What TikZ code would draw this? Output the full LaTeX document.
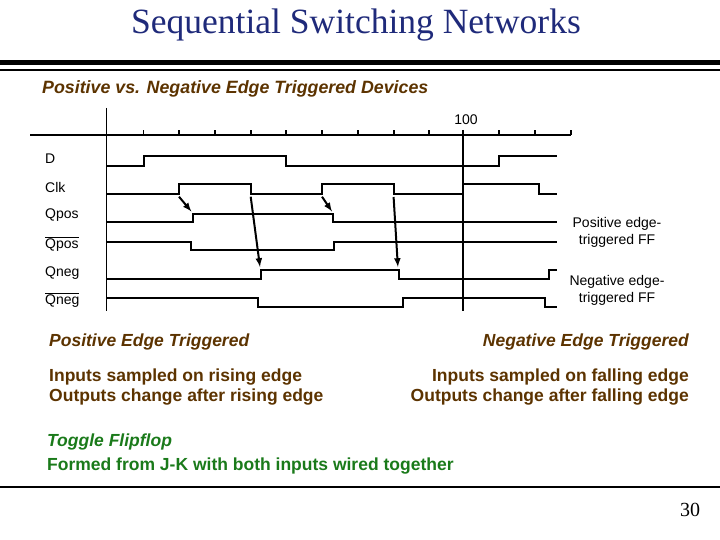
\documentclass[tikz,border=0pt]{standalone}
\usepackage{fontspec}
\setmainfont{Liberation Serif}
\setsansfont{Liberation Sans}
\begin{document}
\begin{tikzpicture}[x=1pt,y=-1pt,
 sig/.style={line width=2pt},
 lbl/.style={font=\sffamily\fontsize{14}{16}\selectfont, anchor=west, inner sep=0},
 br/.style={text=brn, font=\sffamily\bfseries\fontsize{17.5}{19.5}\selectfont, inner sep=0},
 gr/.style={text=grn, font=\sffamily\bfseries\fontsize{17.5}{19}\selectfont, inner sep=0, anchor=west},
 arr/.style={line width=2pt,-latex}]
\definecolor{brn}{HTML}{5C3300}
\definecolor{grn}{HTML}{1A7A1A}
\definecolor{nav}{HTML}{1F2A7A}
\useasboundingbox (0,0) rectangle (720,540);
\node[text=nav, font=\fontsize{35.5}{40}\selectfont, inner sep=0] (title) at (356,25) {Sequential Switching Networks};
\draw[line width=5pt] (0,63) -- (720,63);
\draw[line width=2.5pt] (0,70) -- (720,70);
\node[br, anchor=west, font=\sffamily\bfseries\itshape\fontsize{17.8}{19}\selectfont] (head) at (42,89) {Positive vs. Negative Edge Triggered Devices};
% axis
\draw[line width=1.6pt] (30,135) -- (571,135);
\foreach \x in {143.6,179,215,251,286,322,358,394,429,499,535,571}{\draw[line width=1.6pt] (\x,135) -- (\x,130);}
\draw[line width=1.6pt] (106.5,108) -- (106.5,311);
\draw[line width=1.6pt] (463,130) -- (463,311);
\node[font=\sffamily\fontsize{14}{16}\selectfont, inner sep=0] (t100) at (466,120) {100};
% labels
\node[lbl] (lD) at (45,159) {D};
\node[lbl] (lC) at (45,187) {Clk};
\node[lbl] (lQ) at (45,215) {Qpos};
\node[lbl] (lQb) at (45,244) {$\overline{\mbox{Qpos}}$};
\node[lbl] (lN) at (45,273) {Qneg};
\node[lbl] (lNb) at (45,300) {$\overline{\mbox{Qneg}}$};
% signals
\draw[sig] (106.5,165.7) -- (143.6,165.7) -- (143.6,156) -- (286,156) -- (286,165.7) -- (499,165.7) -- (499,156) -- (557,156);
\draw[sig] (106.5,194) -- (179,194) -- (179,184) -- (251,184) -- (251,194) -- (322,194) -- (322,184) -- (394,184) -- (394,194) -- (463,194) -- (463,184) -- (539,184) -- (539,194) -- (557,194);
\draw[sig] (106.5,222) -- (193,222) -- (193,213.7) -- (333,213.7) -- (333,222) -- (557,222);
\draw[sig] (106.5,242) -- (191.4,242) -- (191.4,250) -- (334,250) -- (334,242) -- (557,242);
\draw[sig] (106.5,279.3) -- (261,279.3) -- (261,270) -- (398.6,270) -- (398.6,279.3) -- (548.6,279.3) -- (548.6,270) -- (557,270);
\draw[sig] (106.5,298) -- (257.5,298) -- (257.5,307) -- (403,307) -- (403,298) -- (545,298) -- (545,307) -- (557,307);
% arrows
\coordinate (a1s) at (179,196.7); \coordinate (a1e) at (191.4,211.5);
\coordinate (a2s) at (250.7,196.7); \coordinate (a2e) at (260,267);
\coordinate (a3s) at (322,196.7); \coordinate (a3e) at (332,211.5);
\coordinate (a4s) at (393.6,197); \coordinate (a4e) at (397.9,267);
\draw[arr] (a1s) -- (a1e);
\draw[arr] (a2s) -- (a2e);
\draw[arr] (a3s) -- (a3e);
\draw[arr] (a4s) -- (a4e);
\node[font=\sffamily\fontsize{14}{17}\selectfont, align=center, inner sep=0] (pe) at (617,232) {Positive edge-\\triggered FF};
\node[font=\sffamily\fontsize{14}{17}\selectfont, align=center, inner sep=0] (ne) at (617,290) {Negative edge-\\triggered FF};
% lower text
\node[br, anchor=west, font=\sffamily\bfseries\itshape\fontsize{17.5}{19}\selectfont] (pt) at (49,342) {Positive Edge Triggered};
\node[br, anchor=east, font=\sffamily\bfseries\itshape\fontsize{17.5}{19}\selectfont] (nt) at (689,342) {Negative Edge Triggered};
\node[br, anchor=west, align=left] (pl) at (49,387) {Inputs sampled on rising edge\\Outputs change after rising edge};
\node[br, anchor=east, align=right] (nl) at (689,387) {Inputs sampled on falling edge\\Outputs change after falling edge};
\node[gr, font=\sffamily\bfseries\itshape\fontsize{17.5}{19}\selectfont] (tf) at (47,442) {Toggle Flipflop};
\node[gr] (ff) at (47,466) {Formed from J-K with both inputs wired together};
\draw[line width=2.5pt] (0,487) -- (720,487);
\node[font=\fontsize{20}{22}\selectfont, inner sep=0] (pg) at (690,510) {30};
\end{tikzpicture}
\end{document}
